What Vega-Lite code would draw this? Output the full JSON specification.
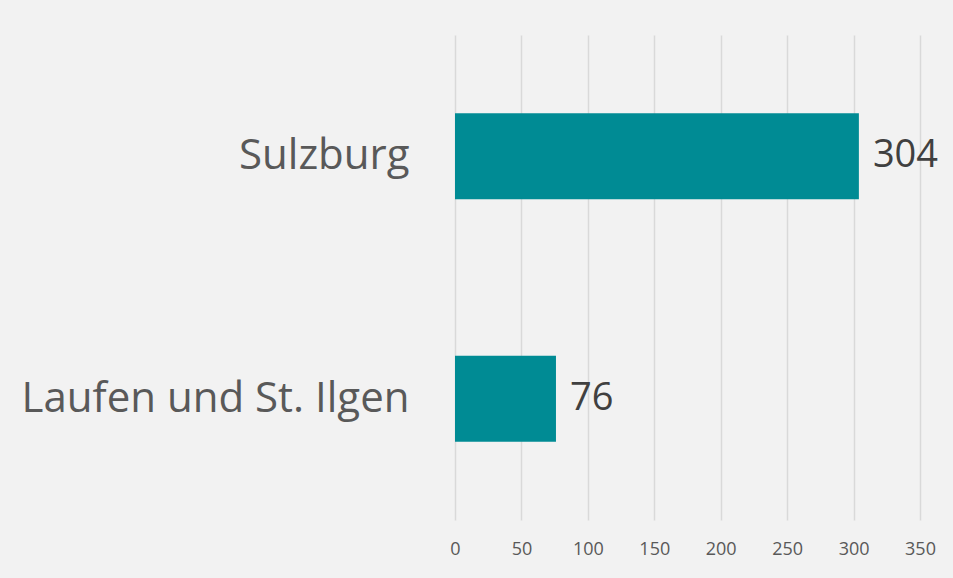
{
  "$schema": "https://vega.github.io/schema/vega-lite/v6.json",
  "width": 465,
  "height": 485,
  "autosize": {"type": "none"},
  "padding": {"left": 455, "top": 35, "right": 33, "bottom": 58},
  "background": "#f2f2f2",
  "config": {"view": {"stroke": null}, "font": "Open Sans"},
  "data": {"values": [
    {"ort": "Sulzburg", "wert": 304},
    {"ort": "Laufen und St. Ilgen", "wert": 76}
  ]},
  "encoding": {
    "y": {"field": "ort", "type": "nominal", "sort": null,
      "scale": {"paddingInner": 0.645, "paddingOuter": 0.3225},
      "axis": {"title": null, "domain": false, "ticks": false, "labelPadding": 46, "labelFontSize": 42, "labelColor": "#595959", "labelFont": "Open Sans", "labelLimit": 500}},
    "x": {"field": "wert", "type": "quantitative",
      "scale": {"domain": [0, 350]},
      "axis": {"title": null, "domain": false, "ticks": false, "values": [0,50,100,150,200,250,300,350], "labelFlush": false, "labelPadding": 20, "labelFontSize": 18, "labelColor": "#595959", "gridColor": "#d9d9d9", "gridWidth": 1.5}}
  },
  "layer": [
    {"mark": {"type": "bar", "color": "#008b94"}},
    {"mark": {"type": "text", "align": "left", "baseline": "middle", "dx": 14, "fontSize": 38, "color": "#404040"},
     "encoding": {"text": {"field": "wert", "type": "quantitative"}}}
  ]
}
